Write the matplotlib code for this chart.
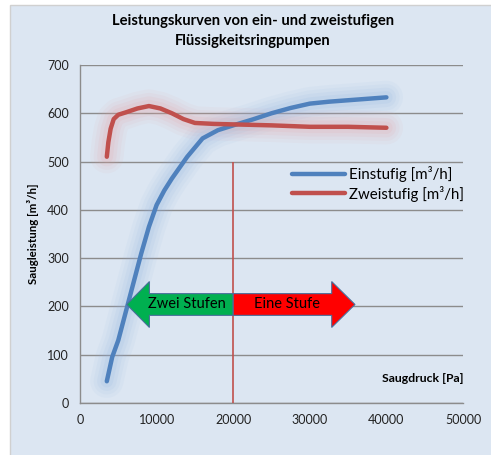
import matplotlib
matplotlib.use("Agg")
import matplotlib.pyplot as plt
from matplotlib.patches import FancyArrow, Rectangle

plt.rcParams['font.family'] = ['Lato', 'DejaVu Sans']

# Daten
ein_x = [3500, 4200, 5000, 6000, 7000, 8000, 9000, 10000, 11000, 12000, 14000, 16000,
         18000, 20000, 22500, 25000, 27500, 30000, 32500, 35000, 37500, 40000]
ein_y = [45, 95, 130, 190, 250, 310, 365, 410, 440, 465, 510, 548,
         565, 575, 587, 600, 611, 620, 624, 627, 630, 633]
zwei_x = [3500, 3700, 4000, 4400, 5000, 6000, 7500, 9000, 10500, 12000, 13500, 15000,
          17500, 20000, 25000, 30000, 35000, 40000]
zwei_y = [510, 540, 568, 588, 597, 602, 610, 615, 610, 600, 588, 580,
          578, 577, 575, 572, 572, 570]

grenze = 20000          # Umschaltpunkt
grenze_ymax = 500
zwei_bereich = [6100, 20000]
ein_bereich = [20000, 35900]
pfeil_y = 204

blau = '#4f81bd'
rot = '#c0504d'

fig = plt.figure(figsize=(4.91, 4.55), dpi=100)
fig.patch.set_facecolor('white')
fig.patches.append(Rectangle((10 / 491, -0.01), 1.0, 1 - 5 / 455 + 0.01,
                             transform=fig.transFigure, facecolor='#dce6f2',
                             edgecolor='#d0d0d0', linewidth=1.0, zorder=-10))

ax = fig.add_axes([80 / 491, 1 - 403 / 455, 383 / 491, 338 / 455])
ax.set_facecolor('none')
ax.set_zorder(1)

# Glow-Effekt
for lw, a in [(24, 0.07), (19, 0.08), (14, 0.10), (9, 0.12)]:
    ax.plot(ein_x, ein_y, color='#8db3e2', lw=lw, alpha=a, solid_capstyle='round',
            solid_joinstyle='round', zorder=2)
    ax.plot(zwei_x, zwei_y, color='#e6a0a0', lw=lw, alpha=a, solid_capstyle='round',
            solid_joinstyle='round', zorder=2)

ax.vlines(grenze, 0, grenze_ymax, color=rot, lw=1.2, zorder=3)

ax.plot(ein_x, ein_y, color=blau, lw=3.2, solid_capstyle='round',
        solid_joinstyle='round', label='Einstufig [m³/h]', zorder=4)
ax.plot(zwei_x, zwei_y, color=rot, lw=3.2, solid_capstyle='round',
        solid_joinstyle='round', label='Zweistufig [m³/h]', zorder=4)

# Pfeile
body = 45
head = 95
ax.add_patch(FancyArrow(zwei_bereich[1], pfeil_y, zwei_bereich[0] - zwei_bereich[1], 0,
                        width=body, head_width=head, head_length=2960,
                        length_includes_head=True, facecolor='#00b050',
                        edgecolor='#4a6f9c', lw=0.8, zorder=5))
ax.add_patch(FancyArrow(ein_bereich[0], pfeil_y, ein_bereich[1] - ein_bereich[0], 0,
                        width=body, head_width=head, head_length=3040,
                        length_includes_head=True, facecolor='#ff0000',
                        edgecolor='#4a6f9c', lw=0.8, zorder=5))
ax.text(13900, pfeil_y, 'Zwei Stufen', ha='center', va='center', fontsize=10.5, zorder=6)
ax.text(27000, pfeil_y, 'Eine Stufe', ha='center', va='center', fontsize=10.5, zorder=6)

ax.set_xlim(0, 50000)
ax.set_ylim(0, 700)
ax.set_xticks(range(0, 50001, 10000))
ax.set_yticks(range(0, 701, 100))
ax.yaxis.grid(True, color='#8c8c8c', lw=1.0)
ax.set_axisbelow(True)
for s in ['top', 'right']:
    ax.spines[s].set_visible(False)
for s in ['left', 'bottom']:
    ax.spines[s].set_color('#8c8c8c')
    ax.spines[s].set_linewidth(1.0)
ax.tick_params(length=0, labelsize=9, colors='#222222', pad=8)

ax.set_ylabel('Saugleistung [m³/h]', fontsize=8.3, fontweight='bold', labelpad=6)
ax.text(1.0, (403 - 378) / 338, 'Saugdruck [Pa]', transform=ax.transAxes,
        ha='right', va='center', fontsize=8.8, fontweight='bold')

fig.text(253 / 491, 1 - 31 / 455,
         'Leistungskurven von ein- und zweistufigen\nFlüssigkeitsringpumpen',
         ha='center', va='center', fontsize=10.6, fontweight='bold', linespacing=1.5)

ax.legend(loc='upper left', bbox_to_anchor=((292 - 80) / 383, (403 - 166) / 338),
          frameon=False, fontsize=10.8, handlelength=3.5, handletextpad=0.3,
          labelspacing=0.25, borderpad=0, borderaxespad=0)

fig.savefig('out.png', dpi=100)
